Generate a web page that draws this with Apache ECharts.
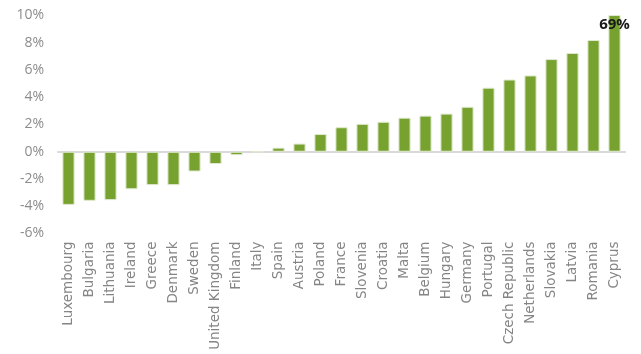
<!DOCTYPE html>
<html>
<head>
<meta charset="utf-8">
<script src="https://cdn.jsdelivr.net/npm/echarts@6/dist/echarts.min.js"></script>
<style>
  html, body { margin: 0; padding: 0; background: #ffffff; }
  #chart { width: 641px; height: 354px; }
</style>
</head>
<body>
<div id="chart"></div>
<script>
// Countries, ordered from lowest to highest change
const countries = [
  'Luxembourg', 'Bulgaria', 'Lithuania', 'Ireland', 'Greece', 'Denmark', 'Sweden',
  'United Kingdom', 'Finland', 'Italy', 'Spain', 'Austria', 'Poland', 'France',
  'Slovenia', 'Croatia', 'Malta', 'Belgium', 'Hungary', 'Germany', 'Portugal',
  'Czech Republic', 'Netherlands', 'Slovakia', 'Latvia', 'Romania', 'Cyprus'
];

// Percentage change per country
const changePct = [
  -3.9, -3.6, -3.55, -2.75, -2.45, -2.45, -1.45,
  -0.9, -0.25, 0, 0.3, 0.6, 1.3, 1.8,
  2.05, 2.2, 2.5, 2.65, 2.8, 3.3, 4.7,
  5.3, 5.6, 6.8, 7.25, 8.2, 69
];

// Value axis range and step (percent)
const yMin = -6;
const yMax = 10;
const yStep = 2;

// The off-scale country gets its value written at the top of the clipped bar
const outlierIndex = changePct.length - 1;

const chart = echarts.init(document.getElementById('chart'), null, { renderer: 'canvas' });

chart.setOption({
  animation: false,
  backgroundColor: '#ffffff',
  grid: { left: 58, right: 16, top: 15.5, bottom: 120.5, containLabel: false },
  xAxis: [
    {
      type: 'category',
      data: countries,
      position: 'bottom',
      axisLine: { show: false, onZero: false },
      axisTick: { show: false },
      axisLabel: {
        rotate: 90,
        interval: 0,
        margin: 8,
        color: '#858585',
        fontFamily: 'DejaVu Sans',
        fontSize: 13.5
      }
    },
    {
      // zero baseline
      type: 'category',
      data: countries,
      position: 'bottom',
      axisLine: { show: true, onZero: true, lineStyle: { color: '#d9d9d9', width: 2 } },
      axisTick: { show: false },
      axisLabel: { show: false }
    }
  ],
  yAxis: {
    type: 'value',
    min: yMin,
    max: yMax,
    interval: yStep,
    axisLine: { show: false },
    axisTick: { show: false },
    splitLine: { show: false },
    axisLabel: {
      formatter: '{value}%',
      color: '#8c8c8c',
      fontFamily: 'Open Sans',
      fontSize: 14,
      margin: 14
    }
  },
  series: [
    {
      type: 'bar',
      data: changePct,
      xAxisIndex: 0,
      clip: true,
      barWidth: '58%',
      itemStyle: {
        color: '#78a22f',
        borderColor: '#dfe9cf',
        borderWidth: 1
      },
      markPoint: {
        symbol: 'rect',
        symbolSize: 0,
        silent: true,
        data: [
          { coord: [countries[outlierIndex], yMax], value: changePct[outlierIndex] }
        ],
        label: {
          show: true,
          position: 'inside',
          offset: [0, 9],
          formatter: p => p.value + '%',
          color: '#1a1a1a',
          fontFamily: 'Open Sans',
          fontWeight: 'bold',
          fontSize: 15
        }
      }
    }
  ]
});
</script>
</body>
</html>
